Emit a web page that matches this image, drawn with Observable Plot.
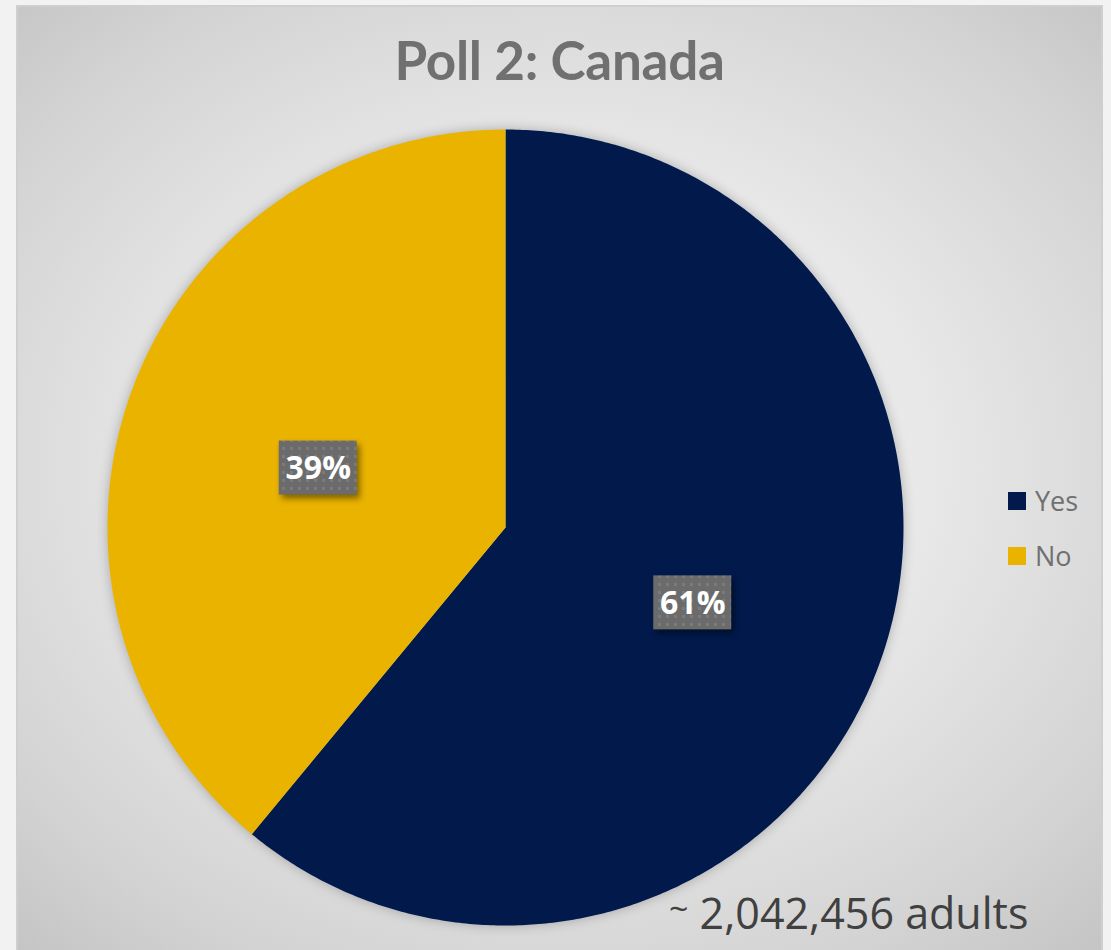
<!DOCTYPE html>
<html>
<head>
<meta charset="utf-8">
<script src="https://cdn.jsdelivr.net/npm/d3@7"></script>
<script src="https://cdn.jsdelivr.net/npm/@observablehq/plot@0.6"></script>
<style>
  html, body { margin: 0; padding: 0; background: #f2f2f2; width: 1111px; height: 950px; overflow: hidden; }
  #frame {
    position: absolute; left: 16px; top: 5px; width: 1087px; height: 960px;
    background: radial-gradient(ellipse 75% 70% at 50% 48%, #f4f4f4 0%, #e8e8e8 45%, #d3d3d3 80%, #c3c3c3 100%);
    box-shadow: inset 0 0 0 2px #cfcfcf;
  }
  #title {
    position: absolute; left: 0; width: 1087px; top: 23px; text-align: center;
    font-family: Lato, "Open Sans", sans-serif; font-weight: 700; font-size: 53px;
    color: #707070; letter-spacing: -0.3px;
  }
  #chart { position: absolute; left: 0; top: 0; }
  #chart g[aria-label="rect"] rect { filter: drop-shadow(3px 4px 3px rgba(0,0,0,0.45)); }
  #chart g[aria-label="line"] { filter: drop-shadow(0 0 6px rgba(0,0,0,0.25)); }
  #legend { position: absolute; left: 992px; top: 468px; font-family: "Open Sans", sans-serif; font-size: 27px; color: #707070; }
  .item { display: flex; align-items: center; height: 55px; }
  .sw { width: 18px; height: 18px; margin-right: 9px; }
  #caption {
    position: absolute; left: 653px; top: 878px; font-family: "Open Sans", sans-serif;
    font-size: 43px; color: #404040; white-space: nowrap;
  }
  #caption .tilde { font-size: 34px; position: relative; top: -8px; }
</style>
</head>
<body>
<div id="frame">
  <div id="chart"></div>
  <div id="title"></div>
  <div id="legend"></div>
  <div id="caption"></div>
</div>
<script>
// ---- data ----
const categories = ["Yes", "No"];
const values = [61, 39];
const colors = ["#011a4b", "#eab300"];
const title = "Poll 2: Canada";
const caption = "2,042,456 adults";

// ---- build slices from pie layout (unit circle coordinates) ----
const pie = d3.pie().sort(null).value(d => d.value);
const arcs = pie(categories.map((c, i) => ({category: c, value: values[i]})));
const total = d3.sum(values);
const pts = [];
const labels = [];
for (const a of arcs) {
  const n = Math.max(2, Math.ceil((a.endAngle - a.startAngle) / (Math.PI / 360)));
  pts.push({category: a.data.category, x: 0, y: 0});
  for (let k = 0; k <= n; k++) {
    const t = a.startAngle + (a.endAngle - a.startAngle) * k / n;
    pts.push({category: a.data.category, x: Math.sin(t), y: Math.cos(t)});
  }
  pts.push({category: a.data.category, x: 0, y: 0});
  const m = (a.startAngle + a.endAngle) / 2;
  labels.push({
    category: a.data.category,
    x: 0.5 * Math.sin(m),
    y: 0.5 * Math.cos(m) - 0.02,
    text: Math.round(a.data.value / total * 100) + "%"
  });
}

const W = 1087, H = 945;
const cx = 489, cy = 522, R = 398;

const chart = Plot.plot({
  width: W, height: H,
  margin: 0,
  x: {domain: [-1, 1], range: [cx - R, cx + R], axis: null},
  y: {domain: [-1, 1], range: [cy + R, cy - R], axis: null},
  color: {domain: categories, range: colors},
  style: {background: "transparent", overflow: "visible"},
  marks: [
    Plot.line(pts, {x: "x", y: "y", z: "category", fill: "category", stroke: "none", curve: "linear"}),
    Plot.rect(labels, {x1: "x", x2: "x", y1: "y", y2: "y",
      insetLeft: -39, insetRight: -39, insetTop: -27, insetBottom: -27,
      fill: "url(#dots)"}),
    Plot.text(labels, {x: "x", y: "y", text: "text", fill: "white", fontSize: 32, fontWeight: 700,
      fontFamily: "Open Sans", dy: 1})
  ]
});

// dotted pattern for the label boxes
const defs = d3.select(chart).insert("defs", ":first-child");
const pat = defs.append("pattern").attr("id", "dots").attr("patternUnits", "userSpaceOnUse")
  .attr("width", 8).attr("height", 8);
pat.append("rect").attr("width", 8).attr("height", 8).attr("fill", "#6b6b6b");
pat.append("rect").attr("x", 2).attr("y", 2).attr("width", 3).attr("height", 3).attr("fill", "#7b7b7b");

document.getElementById("chart").appendChild(chart);
document.getElementById("title").textContent = title;

const legend = d3.select("#legend");
categories.forEach((c, i) => {
  const it = legend.append("div").attr("class", "item");
  it.append("div").attr("class", "sw").style("background", colors[i]);
  it.append("span").text(c);
});

const cap = d3.select("#caption");
cap.append("span").attr("class", "tilde").text("~");
cap.append("span").text(" " + caption);
</script>
</body>
</html>
